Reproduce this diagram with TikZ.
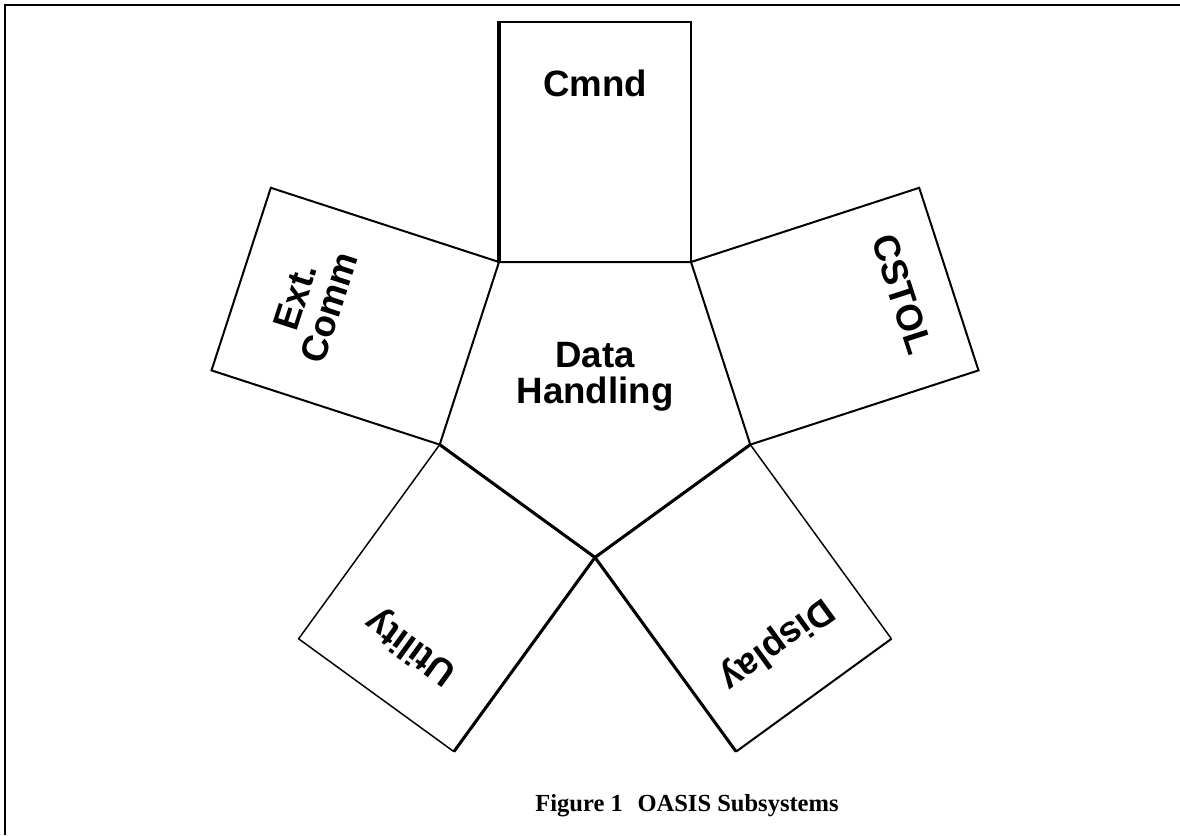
\documentclass[tikz,border=0pt]{standalone}
\usepackage{fontspec}
\setsansfont{Liberation Sans}
\newfontfamily\capfont{Liberation Serif}
\begin{document}
\begin{tikzpicture}[x=0.75pt,y=-0.75pt,
  thinline/.style={line width=1.1pt},
  normline/.style={line width=1.5pt},
  thickline/.style={line width=2.3pt},
  heavyline/.style={line width=3.4pt},
  lbl/.style={font=\sffamily\bfseries\fontsize{27.5}{27}\selectfont, align=center, inner sep=0pt},
  caption/.style={font=\capfont\bfseries\fontsize{18.4}{20}\selectfont, inner sep=0pt}]
\useasboundingbox (0,0) rectangle (1180,835);
% frame
\draw[line width=1.5pt] (5,835) -- (5,5) -- (1180,5);
% pentagon vertices
\coordinate (TL) at (499,262);
\coordinate (TR) at (691,262);
\coordinate (R) at (750.3,444.6);
\coordinate (B) at (595,557.4);
\coordinate (L) at (439.7,444.6);
% outer corners
\coordinate (C1) at (499,22);
\coordinate (C2) at (691,22);
\coordinate (E1) at (270.8,187.8);
\coordinate (E2) at (211.5,370.4);
\coordinate (S1) at (919.2,187.8);
\coordinate (S2) at (978.5,370.4);
\coordinate (D1) at (891.4,638.8);
\coordinate (D2) at (736.1,751.6);
\coordinate (U1) at (298.6,638.8);
\coordinate (U2) at (453.9,751.6);
% rectangles
\draw[normline, line join=miter] (TL) -- (C1) -- (C2) -- (TR) -- cycle;
\draw[normline] (L) -- (E2) -- (E1) -- (TL);
\draw[normline] (TR) -- (S1) -- (S2) -- (R);
\draw[thinline] (L) -- (U1) -- (U2);
\draw[thinline] (R) -- (D1);
\draw[normline] (D1) -- (D2);
% pentagon
\draw[normline] (L) -- (TL) -- (TR) -- (R);
\draw[line width=2pt] (TL) -- (TR);
\draw[line width=2pt] (C1) -- (C2);
\draw[thickline, line join=miter] (R) -- (B) -- (L);
\draw[thickline] (U2) -- (B) -- (D2);
\draw[heavyline] (499,262.8) -- (499,21);
% labels
\node[lbl] (cmnd) at (595,83) {Cmnd};
\node[lbl, rotate=72] (ext) at (312.4,302.3) {Ext.\\Comm};
\node[lbl, rotate=-72] (cstol) at (902.3,294.3) {CSTOL};
\node[lbl, rotate=144] (util) at (411.5,646.6) {Utility};
\node[lbl, rotate=-144] (disp) at (776.1,643.4) {Display};
\node[lbl] (dh) at (595,377) {Data\\Handling};
\node[caption] (cap) at (687,806) {Figure 1\hspace{0.6em}OASIS Subsystems};
\end{tikzpicture}
\end{document}
